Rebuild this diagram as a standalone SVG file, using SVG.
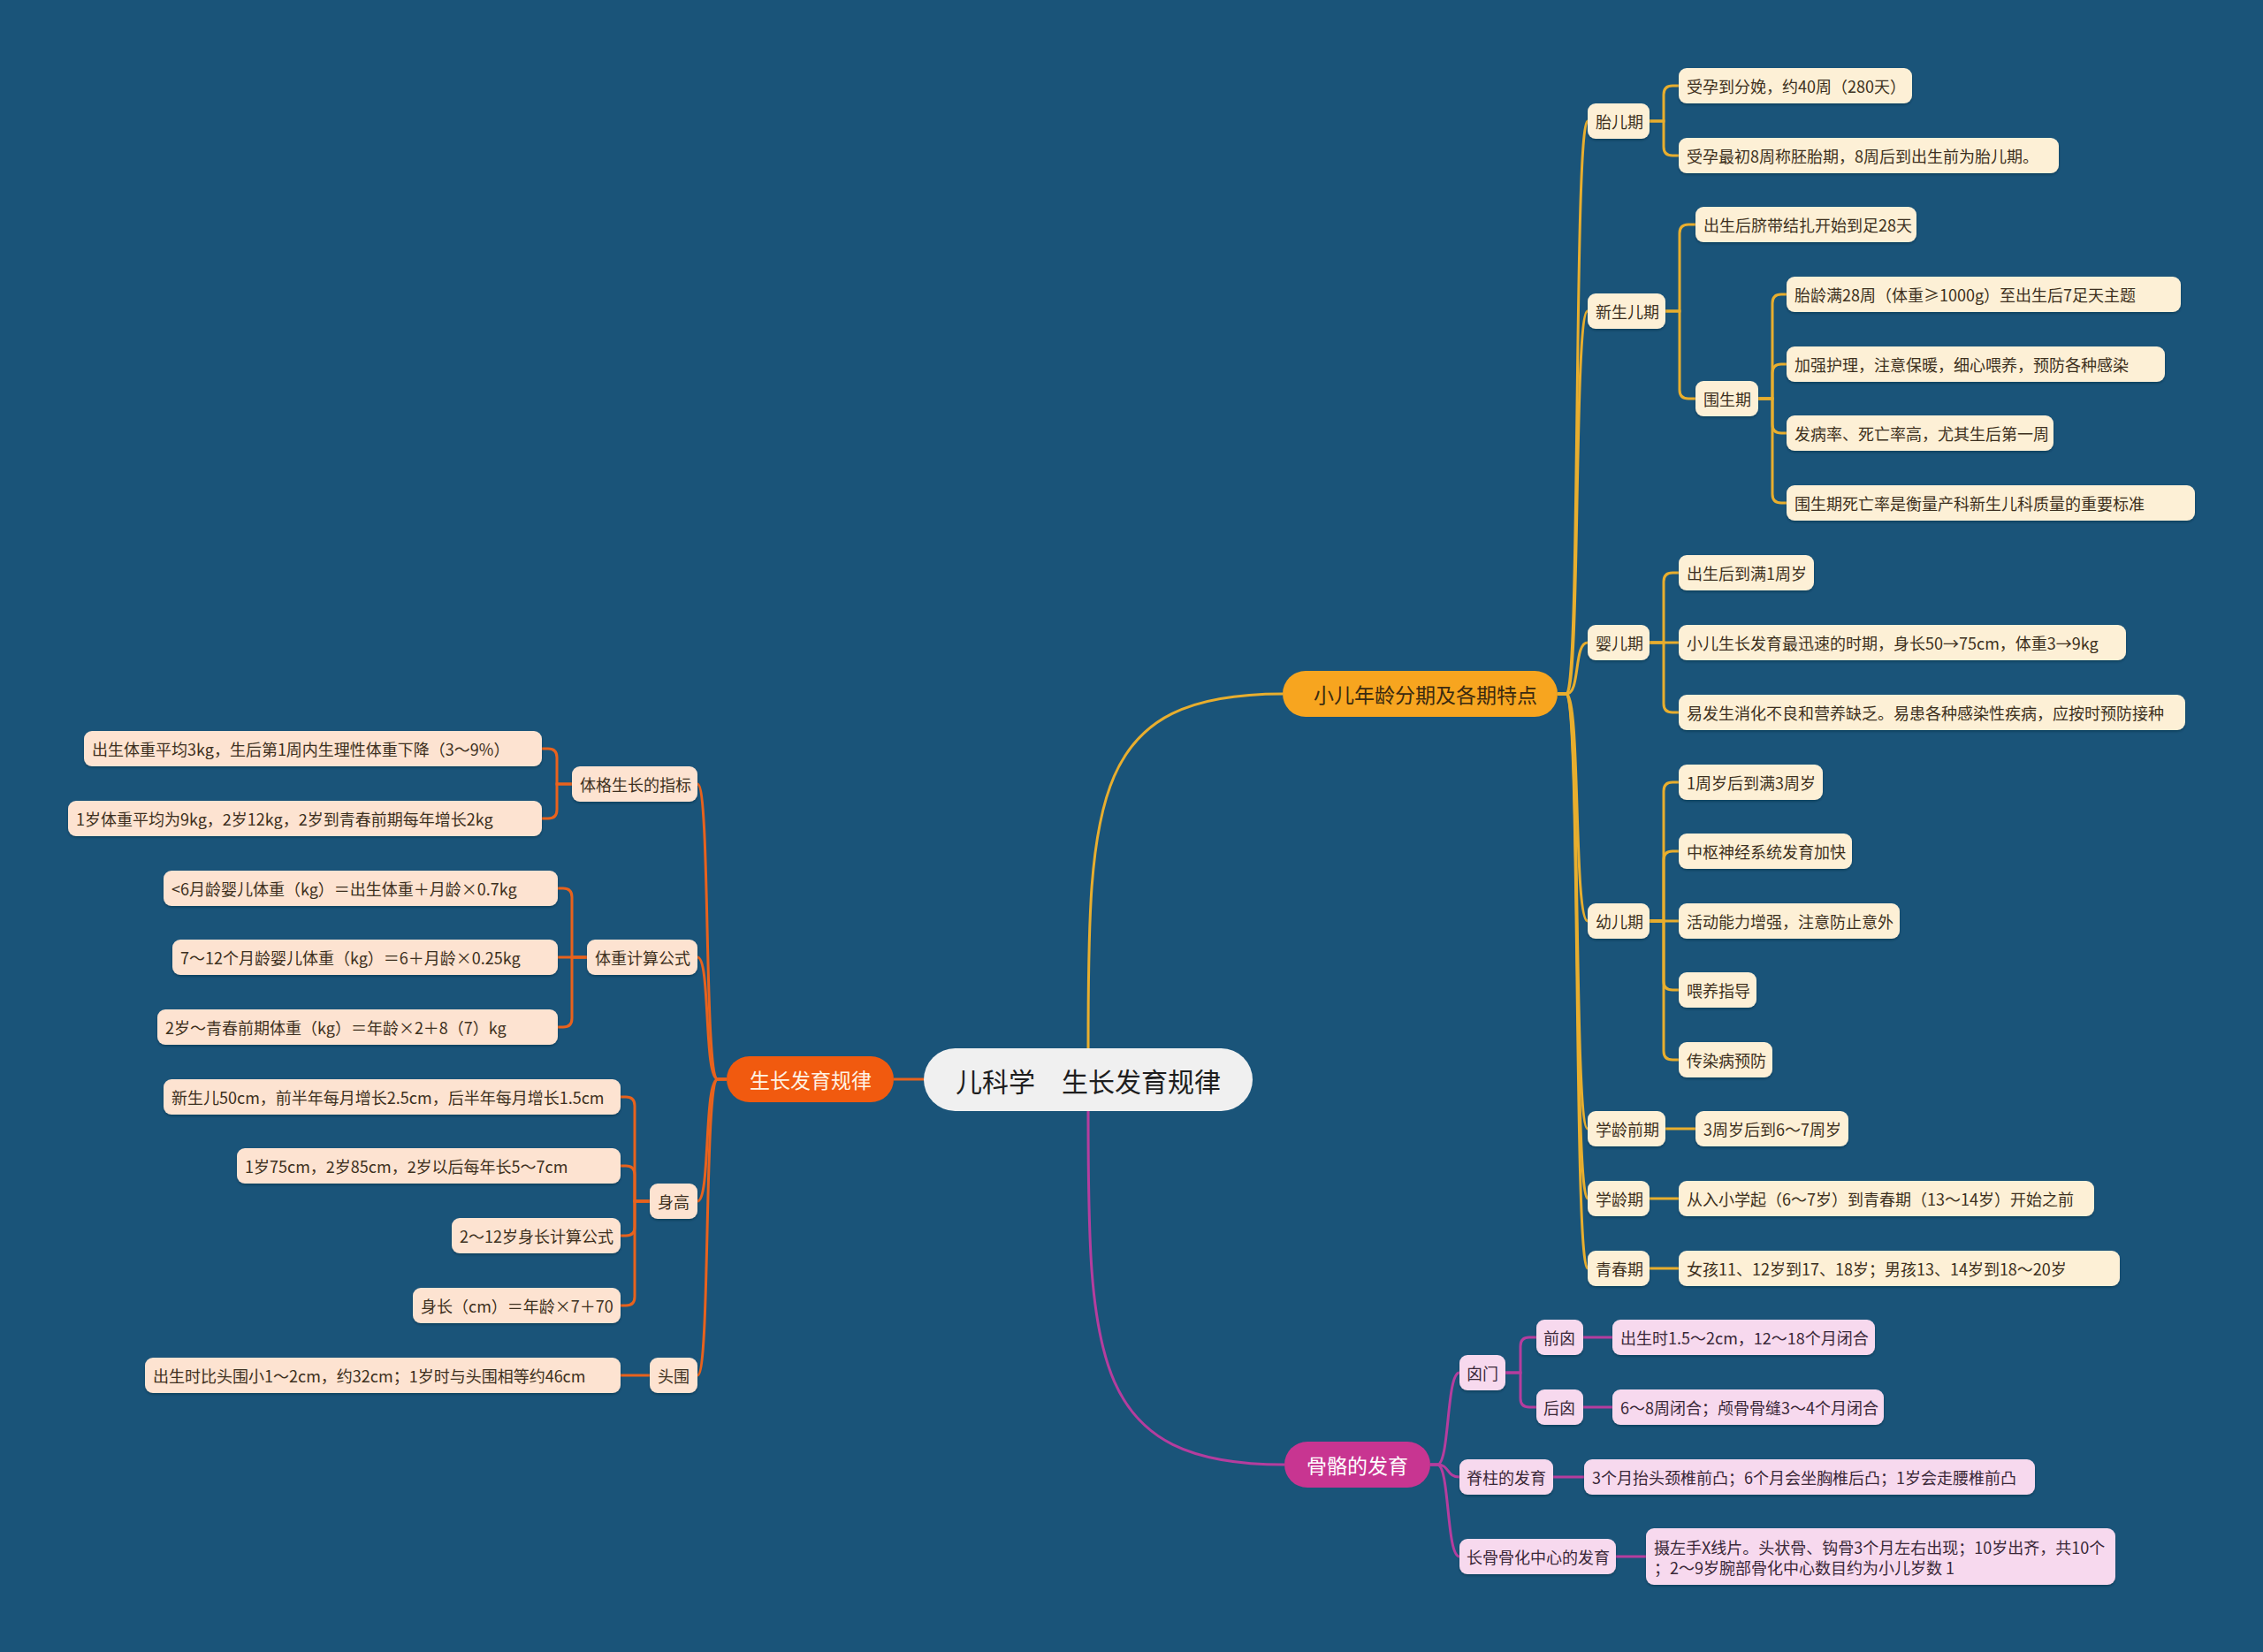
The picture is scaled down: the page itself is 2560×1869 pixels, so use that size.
<svg xmlns="http://www.w3.org/2000/svg" width="2560" height="1869" viewBox="0 0 2560 1869">
<defs>
<filter id="sh" x="-5%" y="-20%" width="110%" height="150%"><feDropShadow dx="0" dy="2" stdDeviation="1.2" flood-color="#0a2a40" flood-opacity="0.45"/></filter>
<style>
.bg{fill:#1a5479}
.cream{fill:#fdf0d6;filter:url(#sh)}
.peach{fill:#fde3d1;filter:url(#sh)}
.pink{fill:#f7d9ee;filter:url(#sh)}
text{font-family:"Noto Sans CJK SC","Noto Sans",sans-serif;dominant-baseline:central}
.t{font-size:18px;fill:#3d3020}
.tp{font-size:18px;fill:#3a2838}
.lg{stroke:#e8ae2e;stroke-width:3;fill:none}
.lo{stroke:#e8621d;stroke-width:3;fill:none}
.lp{stroke:#b53d9e;stroke-width:3;fill:none}
</style>
</defs>
<rect class="bg" x="0" y="0" width="2560" height="1869"/>

<g id="connectors">
<path class="lg" d="M1231,1186 C1231,900 1236,785 1451,785"/>
<path class="lp" d="M1231,1257 C1231,1540 1236,1657 1453,1657"/>
<path class="lo" d="M1045,1221 H1011"/>
<!-- 小儿年龄分期 -> L2 -->
<path class="lg" d="M1762,785 H1772 C1788,785 1780,137 1796,137"/>
<path class="lg" d="M1762,785 H1772 C1788,785 1780,352 1796,352"/>
<path class="lg" d="M1762,785 H1772 C1788,785 1780,727 1796,727"/>
<path class="lg" d="M1762,785 H1772 C1788,785 1780,1042 1796,1042"/>
<path class="lg" d="M1762,785 H1772 C1788,785 1780,1277 1796,1277"/>
<path class="lg" d="M1762,785 H1772 C1788,785 1780,1356 1796,1356"/>
<path class="lg" d="M1762,785 H1772 C1788,785 1780,1435 1796,1435"/>
<!-- 胎儿期 -->
<path class="lg" d="M1866,137 H1882 V107 Q1882,97 1892,97 H1899"/>
<path class="lg" d="M1866,137 H1882 V166 Q1882,176 1892,176 H1899"/>
<!-- 新生儿期 -->
<path class="lg" d="M1884,352 H1900 V264 Q1900,254 1910,254 H1918"/>
<path class="lg" d="M1884,352 H1900 V441 Q1900,451 1910,451 H1918"/>
<!-- 围生期 -->
<path class="lg" d="M1989,451 H2005 V343 Q2005,333 2015,333 H2021"/>
<path class="lg" d="M1989,451 H2005 V422 Q2005,412 2015,412 H2021"/>
<path class="lg" d="M1989,451 H2005 V480 Q2005,490 2015,490 H2021"/>
<path class="lg" d="M1989,451 H2005 V559 Q2005,569 2015,569 H2021"/>
<!-- 婴儿期 -->
<path class="lg" d="M1866,727 H1882 V658 Q1882,648 1892,648 H1899"/>
<path class="lg" d="M1866,727 H1899"/>
<path class="lg" d="M1866,727 H1882 V796 Q1882,806 1892,806 H1899"/>
<!-- 幼儿期 -->
<path class="lg" d="M1866,1042 H1882 V895 Q1882,885 1892,885 H1899"/>
<path class="lg" d="M1866,1042 H1882 V973 Q1882,963 1892,963 H1899"/>
<path class="lg" d="M1866,1042 H1899"/>
<path class="lg" d="M1866,1042 H1882 V1110 Q1882,1120 1892,1120 H1899"/>
<path class="lg" d="M1866,1042 H1882 V1189 Q1882,1199 1892,1199 H1899"/>
<!-- 学龄前期 / 学龄期 / 青春期 -->
<path class="lg" d="M1884,1277 H1918"/>
<path class="lg" d="M1866,1356 H1899"/>
<path class="lg" d="M1866,1435 H1899"/>
<!-- 生长发育规律 -> L2 -->
<path class="lo" d="M822,1221 H812 C796,1221 804,887 789,887"/>
<path class="lo" d="M822,1221 H812 C796,1221 804,1083 789,1083"/>
<path class="lo" d="M822,1221 H812 C796,1221 804,1359 789,1359"/>
<path class="lo" d="M822,1221 H812 C796,1221 804,1556 789,1556"/>
<!-- 体格生长的指标 -->
<path class="lo" d="M647,887 H630 V857 Q630,847 620,847 H613"/>
<path class="lo" d="M647,887 H630 V916 Q630,926 620,926 H613"/>
<!-- 体重计算公式 -->
<path class="lo" d="M664,1083 H647 V1015 Q647,1005 637,1005 H631"/>
<path class="lo" d="M664,1083 H631"/>
<path class="lo" d="M664,1083 H647 V1152 Q647,1162 637,1162 H631"/>
<!-- 身高 -->
<path class="lo" d="M735,1359 H718 V1251 Q718,1241 708,1241 H702"/>
<path class="lo" d="M735,1359 H718 V1329 Q718,1319 708,1319 H702"/>
<path class="lo" d="M735,1359 H718 V1388 Q718,1398 708,1398 H702"/>
<path class="lo" d="M735,1359 H718 V1467 Q718,1477 708,1477 H702"/>
<!-- 头围 -->
<path class="lo" d="M735,1556 H702"/>
<!-- 骨骼的发育 -> L2 -->
<path class="lp" d="M1618,1657 H1626 C1640,1657 1636,1553 1651,1553"/>
<path class="lp" d="M1618,1657 H1626 C1640,1657 1636,1671 1651,1671"/>
<path class="lp" d="M1618,1657 H1626 C1640,1657 1636,1761 1651,1761"/>
<!-- 囟门 -->
<path class="lp" d="M1703,1553 H1720 V1523 Q1720,1513 1730,1513 H1738"/>
<path class="lp" d="M1703,1553 H1720 V1582 Q1720,1592 1730,1592 H1738"/>
<path class="lp" d="M1791,1513 H1824"/>
<path class="lp" d="M1791,1592 H1824"/>
<path class="lp" d="M1757,1671 H1792"/>
<path class="lp" d="M1828,1761 H1862"/>
</g>

<g id="root">
<rect x="1045" y="1186" width="372" height="71" rx="35.5" fill="#f0f0f0"/>
<text x="1231" y="1222" text-anchor="middle" style="font-size:30px;fill:#1e1e1e">儿科学　生长发育规律</text>
</g>

<g id="b1">
<rect x="1451" y="759" width="311" height="52" rx="26" fill="#f7a51f"/>
<text x="1486" y="785" style="font-size:23px;fill:#3b2a10">小儿年龄分期及各期特点</text>
</g>
<g id="b2">
<rect x="822" y="1195" width="189" height="52" rx="26" fill="#f15a0f"/>
<text x="848" y="1221" style="font-size:23px;fill:#fff3e4">生长发育规律</text>
</g>
<g id="b3">
<rect x="1453" y="1631" width="165" height="52" rx="26" fill="#c83591"/>
<text x="1478" y="1657" style="font-size:23px;fill:#ffffff">骨骼的发育</text>
</g>

<!-- right side, cream nodes -->
<g id="n_taier"><rect class="cream" x="1796" y="117" width="70" height="40" rx="9"/><text class="t" x="1805" y="137">胎儿期</text></g>
<g id="n_t1"><rect class="cream" x="1899" y="77" width="264" height="40" rx="9"/><text class="t" x="1908" y="97">受孕到分娩，约40周（280天）</text></g>
<g id="n_t2"><rect class="cream" x="1899" y="156" width="430" height="40" rx="9"/><text class="t" x="1908" y="176">受孕最初8周称胚胎期，8周后到出生前为胎儿期。</text></g>

<g id="n_xinsheng"><rect class="cream" x="1796" y="332" width="88" height="40" rx="9"/><text class="t" x="1805" y="352">新生儿期</text></g>
<g id="n_x1"><rect class="cream" x="1918" y="234" width="250" height="40" rx="9"/><text class="t" x="1927" y="254">出生后脐带结扎开始到足28天</text></g>
<g id="n_weisheng"><rect class="cream" x="1918" y="431" width="71" height="40" rx="9"/><text class="t" x="1927" y="451">围生期</text></g>
<g id="n_w1"><rect class="cream" x="2021" y="313" width="446" height="40" rx="9"/><text class="t" x="2030" y="333">胎龄满28周（体重≥1000g）至出生后7足天主题</text></g>
<g id="n_w2"><rect class="cream" x="2021" y="392" width="428" height="40" rx="9"/><text class="t" x="2030" y="412">加强护理，注意保暖，细心喂养，预防各种感染</text></g>
<g id="n_w3"><rect class="cream" x="2021" y="470" width="302" height="40" rx="9"/><text class="t" x="2030" y="490">发病率、死亡率高，尤其生后第一周</text></g>
<g id="n_w4"><rect class="cream" x="2021" y="549" width="462" height="40" rx="9"/><text class="t" x="2030" y="569">围生期死亡率是衡量产科新生儿科质量的重要标准</text></g>

<g id="n_ying"><rect class="cream" x="1796" y="707" width="70" height="40" rx="9"/><text class="t" x="1805" y="727">婴儿期</text></g>
<g id="n_y1"><rect class="cream" x="1899" y="628" width="153" height="40" rx="9"/><text class="t" x="1908" y="648">出生后到满1周岁</text></g>
<g id="n_y2"><rect class="cream" x="1899" y="707" width="506" height="40" rx="9"/><text class="t" x="1908" y="727">小儿生长发育最迅速的时期，身长50→75cm，体重3→9kg</text></g>
<g id="n_y3"><rect class="cream" x="1899" y="786" width="573" height="40" rx="9"/><text class="t" x="1908" y="806">易发生消化不良和营养缺乏。易患各种感染性疾病，应按时预防接种</text></g>

<g id="n_you"><rect class="cream" x="1796" y="1022" width="70" height="40" rx="9"/><text class="t" x="1805" y="1042">幼儿期</text></g>
<g id="n_u1"><rect class="cream" x="1899" y="865" width="163" height="40" rx="9"/><text class="t" x="1908" y="885">1周岁后到满3周岁</text></g>
<g id="n_u2"><rect class="cream" x="1899" y="943" width="196" height="40" rx="9"/><text class="t" x="1908" y="963">中枢神经系统发育加快</text></g>
<g id="n_u3"><rect class="cream" x="1899" y="1022" width="250" height="40" rx="9"/><text class="t" x="1908" y="1042">活动能力增强，注意防止意外</text></g>
<g id="n_u4"><rect class="cream" x="1899" y="1100" width="88" height="40" rx="9"/><text class="t" x="1908" y="1120">喂养指导</text></g>
<g id="n_u5"><rect class="cream" x="1899" y="1179" width="106" height="40" rx="9"/><text class="t" x="1908" y="1199">传染病预防</text></g>

<g id="n_xlq"><rect class="cream" x="1796" y="1257" width="88" height="40" rx="9"/><text class="t" x="1805" y="1277">学龄前期</text></g>
<g id="n_q1"><rect class="cream" x="1918" y="1257" width="173" height="40" rx="9"/><text class="t" x="1927" y="1277">3周岁后到6～7周岁</text></g>
<g id="n_xl"><rect class="cream" x="1796" y="1336" width="70" height="40" rx="9"/><text class="t" x="1805" y="1356">学龄期</text></g>
<g id="n_l1"><rect class="cream" x="1899" y="1336" width="470" height="40" rx="9"/><text class="t" x="1908" y="1356">从入小学起（6～7岁）到青春期（13～14岁）开始之前</text></g>
<g id="n_qc"><rect class="cream" x="1796" y="1415" width="70" height="40" rx="9"/><text class="t" x="1805" y="1435">青春期</text></g>
<g id="n_c1"><rect class="cream" x="1899" y="1415" width="499" height="40" rx="9"/><text class="t" x="1908" y="1435">女孩11、12岁到17、18岁；男孩13、14岁到18～20岁</text></g>

<!-- left side, peach nodes -->
<g id="n_tige"><rect class="peach" x="647" y="867" width="142" height="40" rx="9"/><text class="t" x="656" y="887">体格生长的指标</text></g>
<g id="n_g1"><rect class="peach" x="95" y="827" width="518" height="40" rx="9"/><text class="t" x="104" y="847">出生体重平均3kg，生后第1周内生理性体重下降（3～9%）</text></g>
<g id="n_g2"><rect class="peach" x="77" y="906" width="536" height="40" rx="9"/><text class="t" x="86" y="926">1岁体重平均为9kg，2岁12kg，2岁到青春前期每年增长2kg</text></g>
<g id="n_tizhong"><rect class="peach" x="664" y="1063" width="125" height="40" rx="9"/><text class="t" x="673" y="1083">体重计算公式</text></g>
<g id="n_z1"><rect class="peach" x="185" y="985" width="446" height="40" rx="9"/><text class="t" x="194" y="1005">&lt;6月龄婴儿体重（kg）＝出生体重＋月龄×0.7kg</text></g>
<g id="n_z2"><rect class="peach" x="195" y="1063" width="436" height="40" rx="9"/><text class="t" x="204" y="1083">7～12个月龄婴儿体重（kg）＝6＋月龄×0.25kg</text></g>
<g id="n_z3"><rect class="peach" x="178" y="1142" width="453" height="40" rx="9"/><text class="t" x="187" y="1162">2岁～青春前期体重（kg）＝年龄×2＋8（7）kg</text></g>
<g id="n_shengao"><rect class="peach" x="735" y="1339" width="54" height="40" rx="9"/><text class="t" x="744" y="1359">身高</text></g>
<g id="n_s1"><rect class="peach" x="185" y="1221" width="517" height="40" rx="9"/><text class="t" x="194" y="1241">新生儿50cm，前半年每月增长2.5cm，后半年每月增长1.5cm</text></g>
<g id="n_s2"><rect class="peach" x="268" y="1299" width="434" height="40" rx="9"/><text class="t" x="277" y="1319">1岁75cm，2岁85cm，2岁以后每年长5～7cm</text></g>
<g id="n_s3"><rect class="peach" x="511" y="1378" width="191" height="40" rx="9"/><text class="t" x="520" y="1398">2～12岁身长计算公式</text></g>
<g id="n_s4"><rect class="peach" x="467" y="1457" width="235" height="40" rx="9"/><text class="t" x="476" y="1477">身长（cm）＝年龄×7＋70</text></g>
<g id="n_touwei"><rect class="peach" x="735" y="1536" width="54" height="40" rx="9"/><text class="t" x="744" y="1556">头围</text></g>
<g id="n_h1"><rect class="peach" x="164" y="1536" width="538" height="40" rx="9"/><text class="t" x="173" y="1556">出生时比头围小1～2cm，约32cm；1岁时与头围相等约46cm</text></g>

<!-- bottom right, pink nodes -->
<g id="n_xinmen"><rect class="pink" x="1651" y="1533" width="52" height="40" rx="9"/><text class="tp" x="1659" y="1553">囟门</text></g>
<g id="n_qianxin"><rect class="pink" x="1738" y="1493" width="53" height="40" rx="9"/><text class="tp" x="1746" y="1513">前囟</text></g>
<g id="n_houxin"><rect class="pink" x="1738" y="1572" width="53" height="40" rx="9"/><text class="tp" x="1746" y="1592">后囟</text></g>
<g id="n_p1"><rect class="pink" x="1824" y="1493" width="297" height="40" rx="9"/><text class="tp" x="1833" y="1513">出生时1.5～2cm，12～18个月闭合</text></g>
<g id="n_p2"><rect class="pink" x="1824" y="1572" width="307" height="40" rx="9"/><text class="tp" x="1833" y="1592">6～8周闭合；颅骨骨缝3～4个月闭合</text></g>
<g id="n_jizhu"><rect class="pink" x="1651" y="1651" width="106" height="40" rx="9"/><text class="tp" x="1659" y="1671">脊柱的发育</text></g>
<g id="n_p3"><rect class="pink" x="1792" y="1651" width="510" height="40" rx="9"/><text class="tp" x="1801" y="1671">3个月抬头颈椎前凸；6个月会坐胸椎后凸；1岁会走腰椎前凸</text></g>
<g id="n_changgu"><rect class="pink" x="1651" y="1741" width="177" height="40" rx="9"/><text class="tp" x="1659" y="1761">长骨骨化中心的发育</text></g>
<g id="n_p4"><rect class="pink" x="1862" y="1729" width="531" height="64" rx="9"/><text class="tp" x="1871" y="1750">摄左手X线片。头状骨、钩骨3个月左右出现；10岁出齐，共10个</text><text class="tp" x="1871" y="1773">；2～9岁腕部骨化中心数目约为小儿岁数 1</text></g>
</svg>
